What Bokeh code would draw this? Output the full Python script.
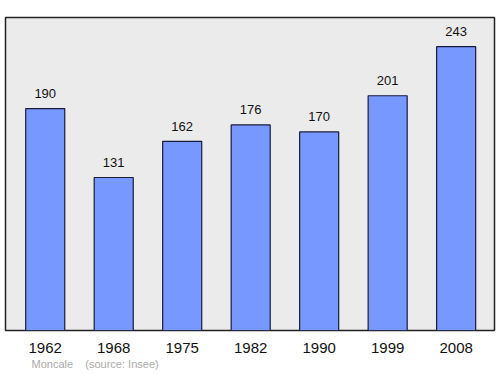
from bokeh.plotting import figure
from bokeh.models import Range1d, Title, FixedTicker, ColumnDataSource
from bokeh.core.properties import value
from bokeh.embed import file_html
from bokeh.resources import INLINE

years = ["1962", "1968", "1975", "1982", "1990", "1999", "2008"]
population = [190, 131, 162, 176, 170, 201, 243]
place = "Moncale"
source_note = "(source: Insee)"

idx = list(range(len(years)))
src = ColumnDataSource(dict(x=idx, top=population, label=[str(v) for v in population]))

p = figure(width=500, height=374, output_backend="svg", toolbar_location=None,
           x_range=Range1d(-0.58, 6.56), y_range=Range1d(0, 268),
           min_border_left=5, min_border_right=6, min_border_top=17, min_border_bottom=44)
p.background_fill_color = "#ebebeb"
p.border_fill_color = "white"
p.outline_line_color = "#222222"
p.outline_line_width = 1.5
p.grid.visible = False
p.yaxis.visible = False

p.vbar(x="x", top="top", width=0.57, bottom=0, source=src,
       fill_color="#7799ff", line_color="#1a1a3a", line_width=1.2)
p.text(x="x", y="top", text="label", source=src, text_align="center",
       text_baseline="alphabetic", y_offset=-15, text_font=value("Liberation Sans"),
       text_font_size="13px", text_color="#111111")

ax = p.xaxis[0]
ax.ticker = FixedTicker(ticks=idx)
ax.major_label_overrides = {i: y for i, y in zip(idx, years)}
ax.axis_line_color = None
ax.major_tick_line_color = None
ax.minor_tick_line_color = None
ax.major_label_text_font = "Liberation Sans"
ax.major_label_text_font_size = "15px"
ax.major_label_text_color = "#111111"
ax.major_label_standoff = 6

src_title = Title(text=place + "\u00a0\u00a0\u00a0\u00a0" + source_note, align="left", offset=26,
                  text_font="Liberation Sans", text_font_size="11px",
                  text_color="#aaaaaa", text_font_style="normal", standoff=0)
p.add_layout(src_title, "below")

open("out.html", "w").write(file_html(p, INLINE))
